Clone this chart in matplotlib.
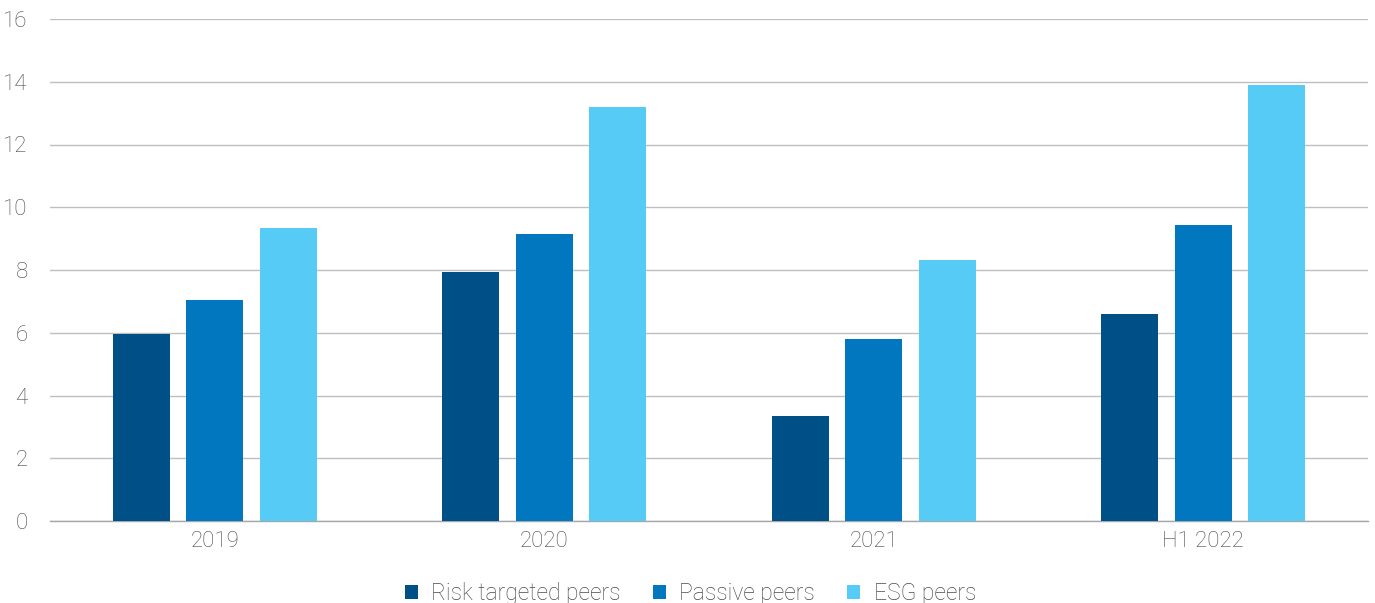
import matplotlib
matplotlib.use("Agg")
import matplotlib.pyplot as plt
import numpy as np

categories = ["2019", "2020", "2021", "H1 2022"]
series_names = ["Risk targeted peers", "Passive peers", "ESG peers"]
risk_targeted = [5.95, 7.95, 3.35, 6.6]
passive = [7.05, 9.15, 5.8, 9.42]
esg = [9.33, 13.18, 8.33, 13.9]
yticks = [0, 2, 4, 6, 8, 10, 12, 14, 16]

colors = ["#005088", "#0077BF", "#56CBF5"]
text_color = "#4A4A4A"

plt.rcParams['font.family'] = ['Roboto', 'DejaVu Sans']
plt.rcParams['font.weight'] = 'light'

fig = plt.figure(figsize=(13.75, 6.03), dpi=100)
ax = fig.add_axes([50/1375, (603-521)/603, (1368-50)/1375, (521-19)/603])

x = np.arange(len(categories))
width = 0.173
offset = 0.223
for i, (vals, name) in enumerate(zip([risk_targeted, passive, esg], series_names)):
    ax.bar(x + (i - 1) * offset, vals, width, color=colors[i], label=name, zorder=3)

ax.set_xlim(-0.5, len(categories) - 0.5)
ax.set_ylim(0, 16)
ax.set_yticks(yticks)
ax.set_yticklabels([str(t) for t in yticks])
ax.set_xticks(x)
ax.set_xticklabels(categories)
ax.grid(axis='y', color='#BFBFBF', linewidth=1, zorder=0)
for s in ['top', 'right', 'left']:
    ax.spines[s].set_visible(False)
ax.spines['bottom'].set_color('#A6A6A6')
ax.spines['bottom'].set_linewidth(1)
ax.tick_params(axis='both', length=0, colors=text_color, labelsize=16)
ax.tick_params(axis='y', pad=16)
ax.tick_params(axis='x', pad=7)

leg = ax.legend(loc='upper center', bbox_to_anchor=(0.486, -0.08), ncol=3, frameon=False,
                fontsize=16.5, handlelength=0.55, handleheight=0.55, handletextpad=0.6,
                columnspacing=1.4)
for t in leg.get_texts():
    t.set_color(text_color)

fig.savefig("out.png", dpi=100)
